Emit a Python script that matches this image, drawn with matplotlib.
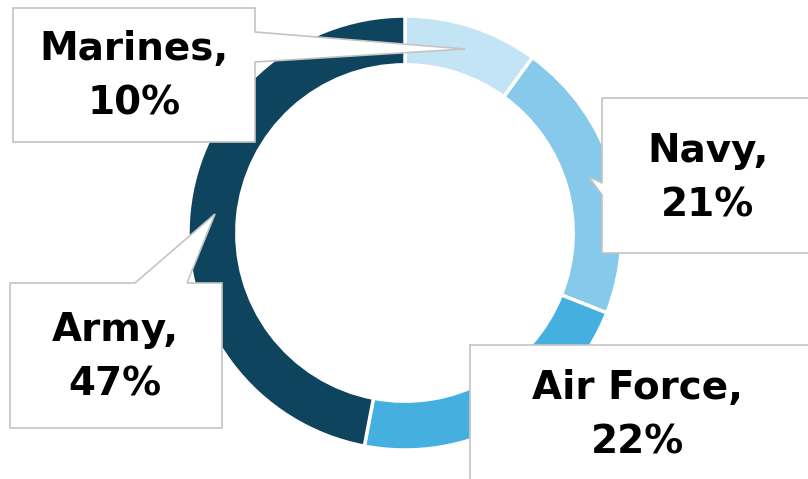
import matplotlib

matplotlib.use("Agg")
import matplotlib.pyplot as plt
from matplotlib.patches import Polygon

# Military branch share
branches = ["Marines", "Navy", "Air Force", "Army"]
shares = [10, 21, 22, 47]
colors = ["#c3e4f4", "#86c9ea", "#45afe0", "#0f445e"]

W, H = 808, 479


def flip(pts):
    # image pixel coords (y down) -> axes coords (y up)
    return [(x, H - y) for x, y in pts]


fig = plt.figure(figsize=(W / 100, H / 100), dpi=100)
ax = fig.add_axes([0, 0, 1, 1])

cx, cy, r = 405, 233, 217
ax.pie(
    shares,
    colors=colors,
    startangle=90,
    counterclock=False,
    center=(cx, H - cy),
    radius=r,
    wedgeprops=dict(width=r * 0.225, edgecolor="white", linewidth=2.5),
)

# callout boxes (image coords), each with a pointer wedge
callouts = {
    "Marines": [(13, 8), (255, 8), (255, 32), (465, 49), (255, 62), (255, 142), (13, 142)],
    "Navy": [(602, 98), (815, 98), (815, 253), (602, 253), (602, 195), (589, 177), (602, 183)],
    "Air Force": [(470, 345), (815, 345), (815, 490), (470, 490)],
    "Army": [(10, 283), (135, 283), (215, 214), (187, 283), (222, 283), (222, 428), (10, 428)],
}
text_pos = {
    "Marines": (134, 76),
    "Navy": (708, 178),
    "Air Force": (638, 415),
    "Army": (115, 357),
}

for name, share in zip(branches, shares):
    poly = Polygon(flip(callouts[name]), closed=True, facecolor="white",
                   edgecolor="#c4c4c4", linewidth=1.2, zorder=5)
    ax.add_patch(poly)
    x, y = text_pos[name]
    ax.text(x, H - y, f"{name},\n{share}%", ha="center", va="center",
            fontsize=28, fontweight="bold", family="DejaVu Sans",
            linespacing=1.55, color="black", zorder=6)

ax.set_xlim(0, W)
ax.set_ylim(0, H)
ax.set_aspect("auto")
ax.axis("off")

plt.savefig("out.png", dpi=100, facecolor="white")
plt.close(fig)
